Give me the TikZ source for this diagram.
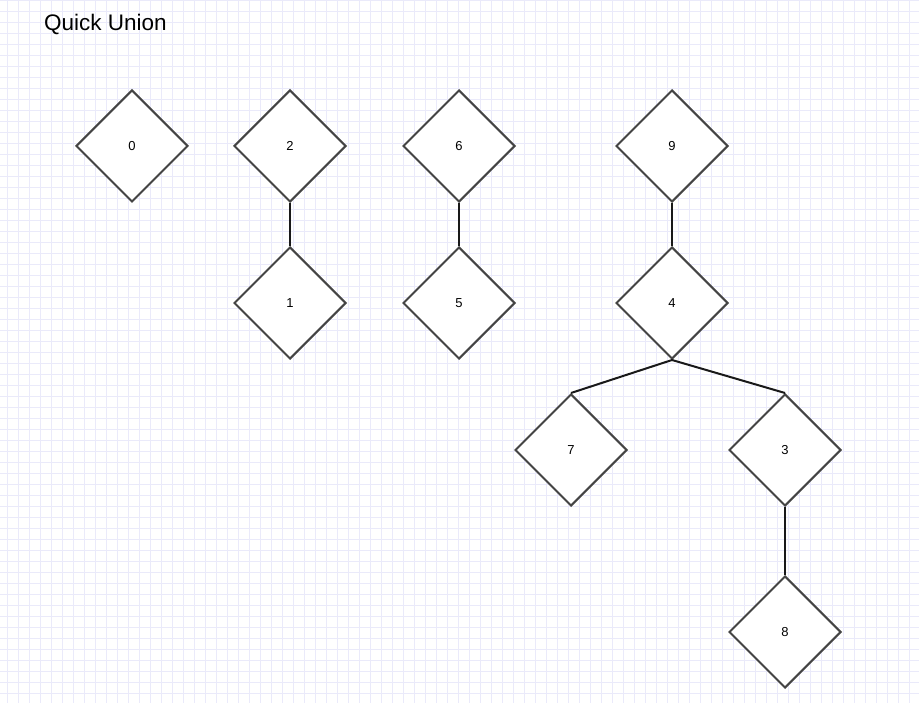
\documentclass[tikz,border=0pt]{standalone}
\usepackage{fontspec}
\setmainfont{Liberation Sans}
\usetikzlibrary{shapes.geometric}
\definecolor{gridc}{RGB}{234,234,250}
\definecolor{shapec}{RGB}{68,68,68}
\tikzset{
  qnode/.style={diamond, draw=shapec, line width=2pt, fill=white, minimum width=112pt, minimum height=112pt, inner sep=0pt, font=\fontsize{13}{15}\selectfont},
  qedge/.style={draw=black!90, line width=2pt},
  title/.style={anchor=base west, inner sep=0pt, font=\fontsize{22.5}{26}\selectfont}
}
\begin{document}
\begin{tikzpicture}[x=1pt,y=-1pt]
\useasboundingbox (0,0) rectangle (919,703);
\fill[white] (0,0) rectangle (919,703);
\foreach \i in {0,...,83} {\draw[gridc, line width=0.8pt] ({7.3+11*\i},0) -- ({7.3+11*\i},703);}
\foreach \j in {0,...,64} {\draw[gridc, line width=0.8pt] (0,{0.7+11*\j}) -- (919,{0.7+11*\j});}
\node[title] (t) at (44,31) {Quick Union};
\node[qnode] (n0) at (132,146) {0};
\node[qnode] (n2) at (290,146) {2};
\node[qnode] (n6) at (459,146) {6};
\node[qnode] (n9) at (672,146) {9};
\node[qnode] (n1) at (290,303) {1};
\node[qnode] (n5) at (459,303) {5};
\node[qnode] (n4) at (672,303) {4};
\node[qnode] (n7) at (571,450) {7};
\node[qnode] (n3) at (785,450) {3};
\node[qnode] (n8) at (785,632) {8};
\draw[qedge] (n2.south) -- (n1.north);
\draw[qedge] (n6.south) -- (n5.north);
\draw[qedge] (n9.south) -- (n4.north);
\draw[qedge] (n4.south) -- (n7.north);
\draw[qedge] (n4.south) -- (n3.north);
\draw[qedge] (n3.south) -- (n8.north);
\end{tikzpicture}
\end{document}
